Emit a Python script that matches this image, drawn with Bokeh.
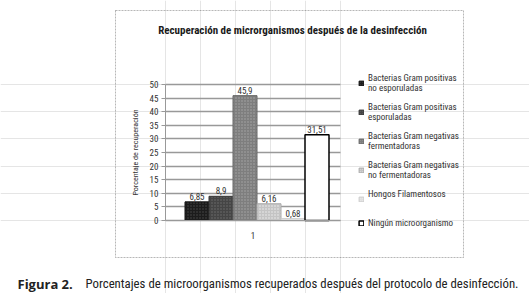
from bokeh.plotting import figure
from bokeh.models import (Range1d, FixedTicker, ColumnDataSource, Legend, LegendItem, Label,
                          BoxAnnotation, LinearAxis, Grid)
from bokeh.embed import file_html
from bokeh.resources import INLINE
from bokeh.core.properties import value

# ---------------- data ----------------
categories = ["1"]
series = [
    "Bacterias Gram positivas no esporuladas",
    "Bacterias Gram positivas esporuladas",
    "Bacterias Gram negativas fermentadoras",
    "Bacterias Gram negativas no fermentadoras",
    "Hongos Filamentosos",
    "Ningún microorganismo",
]
legend_labels = [
    "Bacterias Gram positivas\nno esporuladas",
    "Bacterias Gram positivas\nesporuladas",
    "Bacterias Gram negativas\nfermentadoras",
    "Bacterias Gram negativas\nno fermentadoras",
    "Hongos Filamentosos\n ",
    "Ningún microorganismo",
]
values = [6.85, 8.9, 45.9, 6.16, 0.68, 31.51]
value_labels = ["6,85", "8,9", "45,9", "6,16", "0,68", "31,51"]
y_ticks = [0, 5, 10, 15, 20, 25, 30, 35, 40, 45, 50]
title_text = "Recuperación de microrganismos después de la desinfección"
y_label = "Porcentaje de recuperación"
caption_bold = "Figura 2."
caption_text = "Porcentajes de microorganismos recuperados después del protocolo de desinfección."

# ---------------- styles / layout ----------------
FONT = "'Roboto Condensed', 'Noto Sans Condensed', Roboto, sans-serif"
BOLD_FONT = "'Open Sans', Roboto, sans-serif"
TXT = "#333333"
fills = ["#1c1c1c", "#454545", "#7e7e7e", "#c4c4c4", "#e0e0e0", "#ffffff"]
hatch_colors = ["#4a4a4a", "#707070", "#a8a8a8", "#ececec", "#f2f2f2", None]
hatches = ["dot", "dot", "dot", "dot", "dot", None]
lines = ["#111111", "#333333", "#666666", "#aaaaaa", "#cccccc", "#000000"]
GRID = "#999999"

W, H = 529, 293
PL, PR, PT, PB = 165, 340, 84, 220          # plot area (pixels)
ymax = y_ticks[-1]
kx = PR - PL                                 # px per category unit
ky = (PB - PT) / ymax                        # px per y unit
x_range = Range1d(-PL / kx, (W - PL) / kx)
y_range = Range1d(-(H - PB) / ky, ymax + PT / ky)

p = figure(width=W, height=H, x_range=x_range, y_range=y_range, min_border=0,
           x_axis_location=None, y_axis_location=None, toolbar_location=None,
           output_backend="svg", outline_line_color=None)
p.background_fill_color = "white"
p.border_fill_color = "white"

# grid
ncat = len(categories)
if "cross_bounds" in Grid.properties():
    p.add_layout(Grid(dimension=1, ticker=FixedTicker(ticks=y_ticks), bounds=(0, ymax),
                      cross_bounds=(0, ncat), grid_line_color=GRID, grid_line_width=1.6))
else:
    p.segment(x0=[0] * len(y_ticks), x1=[ncat] * len(y_ticks), y0=y_ticks, y1=y_ticks,
              line_color=GRID, line_width=1.6)

# axes
yax = LinearAxis(fixed_location=0, bounds=(0, ymax), ticker=FixedTicker(ticks=y_ticks),
                 axis_line_color=GRID, major_tick_line_color=GRID, major_tick_out=4, major_tick_in=0,
                 minor_tick_line_color=None, major_label_text_font=FONT,
                 major_label_text_font_size="9px", major_label_text_color=TXT,
                 major_label_standoff=3, axis_label=y_label, axis_label_text_font=FONT,
                 axis_label_text_font_size="8px", axis_label_text_font_style="normal",
                 axis_label_text_color=TXT, axis_label_standoff=7)
p.add_layout(yax, "left")
cat_pos = [i + 0.5 for i in range(ncat)]
xax = LinearAxis(fixed_location=0, bounds=(0, ncat), ticker=FixedTicker(ticks=cat_pos),
                 major_label_overrides={c: lab for c, lab in zip(cat_pos, categories)},
                 axis_line_color=GRID, major_tick_line_color=None, minor_tick_line_color=None,
                 major_label_text_font=FONT, major_label_text_font_size="9px",
                 major_label_text_color=TXT, major_label_standoff=5)
p.add_layout(xax, "below")

# bars
bw = 24 / kx
shift = 4 / kx
items = []
for i, (s, v, lab) in enumerate(zip(series, values, value_labels)):
    xc = cat_pos[0] + (i - 2.5) * bw + shift
    src = ColumnDataSource(dict(x=[xc], val=[v], lab=[lab]))
    kw = {}
    if hatches[i]:
        kw = dict(hatch_pattern=hatches[i], hatch_color=hatch_colors[i], hatch_scale=3, hatch_weight=1)
    r = p.vbar(x="x", top="val", bottom=0, width=bw, source=src,
               fill_color=fills[i], line_color=lines[i], line_width=1 if i < 5 else 1.5, **kw)
    p.text(x="x", y="val", text="lab", source=src, text_align="center", text_baseline="bottom",
           y_offset=-2, text_font=value(FONT), text_font_size="9px", text_color=TXT)
    items.append(LegendItem(label=legend_labels[i], renderers=[r]))

legend = Legend(items=items, location=(358, H - 228), orientation="vertical",
                glyph_width=6, glyph_height=6, label_standoff=4, spacing=9,
                margin=0, padding=0, border_line_color=None, background_fill_alpha=0,
                label_text_font=FONT, label_text_font_size="9px", label_text_color=TXT,
                label_height=10)
p.add_layout(legend)

# outer dotted frame, title, caption
p.add_layout(BoxAnnotation(left=115, right=463, top=H - 10, bottom=H - 257,
                           left_units="screen", right_units="screen", top_units="screen",
                           bottom_units="screen", fill_alpha=0, line_color="#111111",
                           line_width=1, line_dash="2 1", level="underlay"))
p.add_layout(Label(x=292, y=H - 30, x_units="screen", y_units="screen", text=title_text,
                   text_font=FONT, text_font_size="11px", text_font_style="bold",
                   text_color="#1a1a1a", text_align="center", text_baseline="middle"))
p.add_layout(Label(x=17, y=H - 283, x_units="screen", y_units="screen", text=caption_bold,
                   text_font=BOLD_FONT, text_font_size="13px", text_font_style="bold",
                   text_color="#222222", text_align="left", text_baseline="middle"))
p.add_layout(Label(x=85, y=H - 283, x_units="screen", y_units="screen", text=caption_text,
                   text_font=FONT, text_font_size="12.8px", text_color="#222222",
                   text_align="left", text_baseline="middle"))

open("out.html", "w").write(file_html(p, INLINE))
